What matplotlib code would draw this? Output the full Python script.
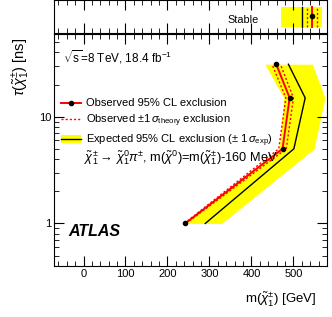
import matplotlib
matplotlib.use("Agg")
import matplotlib.pyplot as plt
from matplotlib.lines import Line2D
from matplotlib.patches import Patch
from matplotlib.ticker import MultipleLocator, FixedLocator, NullFormatter, LogLocator

plt.rcParams['font.family'] = ['Liberation Sans', 'DejaVu Sans']
plt.rcParams['mathtext.fontset'] = 'custom'
plt.rcParams['mathtext.rm'] = 'Liberation Sans'
plt.rcParams['mathtext.it'] = 'Liberation Sans:italic'

# lifetime points [ns] and chargino masses [GeV]
tau = [1, 5, 15, 31]
m_obs = [242, 474, 491, 459]
m_exp = [290, 501, 528, 488]
band_lo = [242, 466, 477, 432]
band_hi = [329, 549, 575, 545]
theory_shift = [2, 9, 9, 10]

# stable case
stable_obs = 544
stable_exp = 520
stable_theory = [533, 555]
stable_band = [470, 567]

fig = plt.figure(figsize=(3.32, 3.17), dpi=100)
ax = fig.add_axes([0.163, 0.161, 0.822, 0.733])
axt = fig.add_axes([0.163, 0.896, 0.822, 0.104], sharex=ax)

red = '#ff0000'
yellow = '#ffff00'

# main panel
ax.fill_betweenx(tau, band_lo, band_hi, color=yellow, lw=0)
ax.plot(m_exp, tau, color='black', lw=1.0)
ax.plot([m + s for m, s in zip(m_obs, theory_shift)], tau, color=red, lw=1.0, ls=(0, (1.5, 1.5)))
ax.plot([m - s for m, s in zip(m_obs, theory_shift)], tau, color=red, lw=1.0, ls=(0, (1.5, 1.5)))
ax.plot(m_obs, tau, color=red, lw=1.4)
ax.plot(m_obs, tau, 'o', color='black', ms=3)

ax.set_yscale('log')
ax.set_xlim(-70, 580)
ax.set_ylim(0.4, 60)
ax.xaxis.set_major_locator(MultipleLocator(100))
ax.xaxis.set_minor_locator(MultipleLocator(20))
ax.yaxis.set_major_locator(FixedLocator([1, 10]))
ax.yaxis.set_minor_locator(LogLocator(base=10, subs=range(2, 10)))
ax.yaxis.set_minor_formatter(NullFormatter())
ax.set_yticklabels(['1', '10'])
ax.tick_params(which='both', direction='in', top=True, right=True, labelsize=8, pad=2)
ax.tick_params(which='major', length=7)
ax.tick_params(which='minor', length=3.5)

ax.set_xlabel(r'm($\tilde{\chi}_1^{\pm}$) [GeV]', loc='right', fontsize=9.5, labelpad=8)
ax.xaxis.label.set_x(0.96)
ax.set_ylabel(r'$\tau$($\tilde{\chi}_1^{\pm}$) [ns]', loc='top', fontsize=10.5, labelpad=5)
ax.yaxis.label.set_y(0.98)

ax.text(0.033, 0.897, r'$\sqrt{\rm s}$=8 TeV, 18.4 fb$^{-1}$', transform=ax.transAxes,
        fontsize=8.5, va='center')
ax.text(0.052, 0.15, 'ATLAS', transform=ax.transAxes, fontsize=11.5,
        fontweight='bold', style='italic', va='center')
ax.text(0.11, 0.465,
        r'$\tilde{\chi}_1^{\pm}\rightarrow\,\tilde{\chi}_1^{0}\pi^{\pm}$, m($\tilde{\chi}^{0}$)=m($\tilde{\chi}_1^{\pm}$)-160 MeV',
        transform=ax.transAxes, fontsize=9.2, va='center')

h_obs = Line2D([], [], color=red, lw=1.4, marker='o', mfc='black', mec='black', ms=3)
h_th = Line2D([], [], color=red, lw=1.0, ls=(0, (1.5, 1.5)))
h_exp = (Patch(color=yellow, lw=0), Line2D([], [], color='black', lw=1.0))
leg = ax.legend([h_obs, h_th, h_exp],
                ['Observed 95% CL exclusion',
                 r'Observed $\pm1\,\sigma_{\rm theory}$ exclusion',
                 r'Expected 95% CL exclusion ($\pm$ 1$\,\sigma_{\rm exp}$)'],
                loc='upper left', bbox_to_anchor=(0.01, 0.74), frameon=False,
                fontsize=8, handlelength=1.8, handletextpad=0.45, labelspacing=0.35,
                borderaxespad=0)

# stable panel
axt.axvspan(stable_band[0], stable_band[1], ymin=0.18, ymax=0.8, color=yellow, lw=0)
axt.axvline(stable_exp, ymin=0.18, ymax=0.8, color='black', lw=1.0)
for s in stable_theory:
    axt.axvline(s, ymin=0.18, ymax=0.8, color=red, lw=1.0, ls=(0, (1.5, 1.5)))
axt.axvline(stable_obs, ymin=0.18, ymax=0.8, color=red, lw=1.4)
axt.plot([stable_obs], [0.5], 'o', color='black', ms=3)
axt.set_ylim(0, 1)
axt.text(379, 0.38, 'Stable', fontsize=7.8, ha='center', va='center')
axt.set_yticks([])
axt.tick_params(axis='x', which='both', direction='in', top=True, bottom=True, labelbottom=False)
axt.tick_params(which='major', length=7)
axt.tick_params(which='minor', length=3.5)

fig.savefig('out.png', dpi=100)
